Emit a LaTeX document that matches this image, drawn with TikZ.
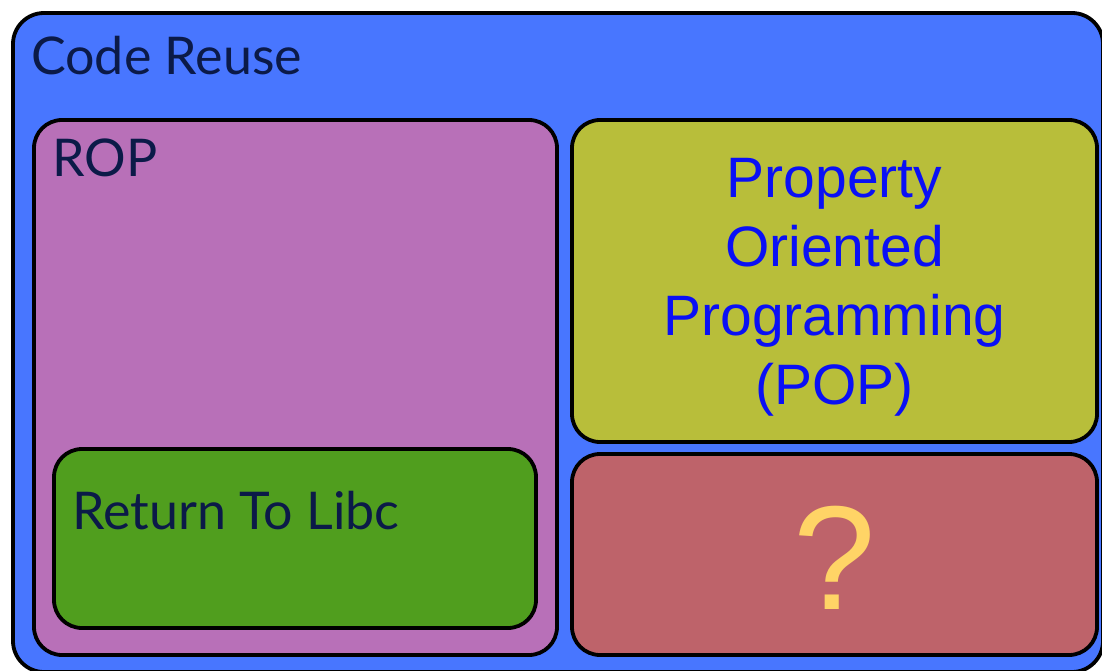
\documentclass[tikz,border=0pt]{standalone}
\usepackage{fontspec}
\newfontfamily\labelfont{Lato}
\newfontfamily\arialfont{Liberation Sans}
\definecolor{reuseblue}{HTML}{4876FF}
\definecolor{roppink}{HTML}{B870B8}
\definecolor{libcgreen}{HTML}{509E1E}
\definecolor{popolive}{HTML}{B8BE3A}
\definecolor{unknownred}{HTML}{BE636A}
\definecolor{labelnavy}{HTML}{0B1A48}
\definecolor{popblue}{HTML}{0A10F5}
\definecolor{qyellow}{HTML}{FFD466}
\tikzset{
  panel/.style={draw=black, line width=3.8pt, rounded corners=28pt, inner sep=0pt, outer sep=0pt},
  outerpanel/.style={panel, rounded corners=31pt},
  title/.style={anchor=base west, inner sep=0pt, text=labelnavy,
    font=\labelfont\fontsize{52}{62}\selectfont},
}
\begin{document}
\begin{tikzpicture}[x=1pt, y=-1pt]
  \useasboundingbox (0,0) rectangle (1102,671);
  \clip (0,0) rectangle (1102,671);
  % outer container
  \node[outerpanel, fill=reuseblue, minimum width=1090pt, minimum height=659pt] (reuse) at (558,342.5) {};
  \node[title] (reuselabel) at (31,75) {Code Reuse};
  % ROP panel with nested return-to-libc panel
  \node[panel, fill=roppink, minimum width=523pt, minimum height=535pt] (rop) at (295.5,387.5) {};
  \node[title] (roplabel) at (52,177) {ROP};
  \node[panel, fill=libcgreen, minimum width=482pt, minimum height=179pt] (libc) at (295,538.5) {};
  \node[title] (libclabel) at (72,529) {Return To Libc};
  % POP panel
  \node[panel, fill=popolive, minimum width=525pt, minimum height=322pt] (pop) at (834.5,281) {};
  \node[align=center, inner sep=0pt, text=popblue,
    font=\arialfont\fontsize{57}{69}\selectfont] (poplabel) at (834.5,287)
    {Property\\Oriented\\Programming\\(POP)};
  % unknown panel
  \node[panel, fill=unknownred, minimum width=525pt, minimum height=201pt] (unknown) at (834.5,554.5) {};
  \node[anchor=base, inner sep=0pt, text=qyellow,
    font=\arialfont\fontsize{148}{160}\selectfont] (qmark) at (834.5,609) {?};
\end{tikzpicture}
\end{document}
